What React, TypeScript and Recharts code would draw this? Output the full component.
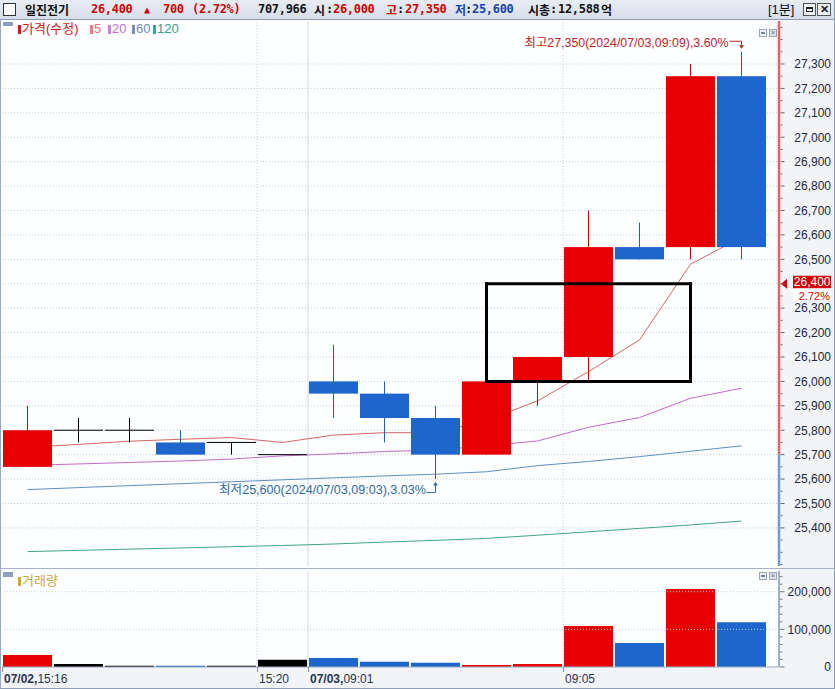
import React from 'react';
import { ComposedChart, Bar, Line, XAxis, YAxis, ReferenceLine, ReferenceDot, ReferenceArea, Cell } from 'recharts';

// ---------- data ----------
const times = [
  '07/02 15:16', '07/02 15:17', '07/02 15:18', '07/02 15:19', '07/02 15:20', '07/02 15:30',
  '07/03 09:01', '07/03 09:02', '07/03 09:03', '07/03 09:04', '07/03 09:05', '07/03 09:06',
  '07/03 09:07', '07/03 09:08', '07/03 09:09',
];
const axisLabelsBold = ['07/02,', '', '', '', '', '', '07/03,', '', '', '', '', '', '', '', ''];
const axisLabelsTime = ['15:16', '', '', '', '', '15:20', '09:01', '', '', '', '', '09:05', '', '', ''];

const opens = [25650, 25800, 25800, 25750, 25750, 25700, 26000, 25950, 25850, 25700, 26000, 26100, 26550, 26550, 27250];
const closes = [25800, 25800, 25800, 25700, 25750, 25700, 25950, 25850, 25700, 26000, 26100, 26550, 26500, 27250, 26550];
const highs = [25900, 25850, 25850, 25800, 25750, 25700, 26150, 26000, 25900, 26000, 26100, 26700, 26650, 27300, 27350];
const lows = [25650, 25750, 25750, 25700, 25700, 25700, 25850, 25750, 25600, 25700, 25900, 26000, 26500, 26500, 26500];
const volumes = [32000, 8000, 3000, 3000, 3000, 19000, 24000, 14000, 11000, 5000, 8000, 109000, 64000, 207000, 119000];

const ma5 = [25730, 25742, 25755, 25763, 25770, 25750, 25780, 25790, 25790, 25840, 25920, 26040, 26170, 26480, 26590];
const ma20 = [25656, 25662, 25668, 25674, 25682, 25695, 25703, 25713, 25719, 25736, 25756, 25812, 25852, 25931, 25972];
const ma60 = [25557, 25565, 25573, 25581, 25589, 25597, 25605, 25613, 25620, 25630, 25655, 25672, 25692, 25714, 25736];
const ma120 = [25303, 25308, 25313, 25318, 25323, 25328, 25334, 25342, 25349, 25357, 25370, 25384, 25398, 25412, 25428];

const priceLabels = [25400, 25500, 25600, 25700, 25800, 25900, 26000, 26100, 26200, 26300, 26400, 26500,
  26600, 26700, 26800, 26900, 27000, 27100, 27200, 27300];
const volumeLabels = [0, 100000, 200000];

const PREV_CLOSE = 25700;
const CURRENT = 26400;
const CHANGE_PCT = '2.72%';
const HIGH_NOTE = '최고27,350(2024/07/03,09:09),3.60%';
const LOW_NOTE = '최저25,600(2024/07/03,09:03),3.03%';
const HIGH_IDX = 14;
const LOW_IDX = 8;
const BOX_FROM = 9;
const BOX_TO = 13;
const BOX_TOP = 26400;
const BOX_BOTTOM = 26000;

// ---------- derived ----------
const Y_MIN = 25244;
const Y_MAX = 27476;
const V_MAX = 255000;
const PAD_RIGHT = 12;
const priceTicks: number[] = [];
for (let v = 25250; v <= 27450; v += 50) priceTicks.push(v);
const volTicks: number[] = [];
for (let v = 0; v <= 240000; v += 20000) volTicks.push(v);

const data = times.map((t, i) => ({
  t, open: opens[i], close: closes[i], high: highs[i], low: lows[i], vol: volumes[i],
  ma5: ma5[i], ma20: ma20[i], ma60: ma60[i], ma120: ma120[i],
}));

const RED = '#e60000';
const BLUE = '#1f66cc';
const FONT = "'Liberation Sans', 'Noto Sans CJK KR', Arial, sans-serif";
const HFONT = "'DejaVu Sans Mono', 'Noto Sans CJK KR', monospace";
const KFONT = "'Noto Sans CJK KR', sans-serif";
const fmt = (v: number) => v.toLocaleString('en-US');
const candleColor = (i: number) => (closes[i] > opens[i] ? RED : closes[i] < opens[i] ? BLUE : '#000');

// ---------- shapes ----------
const Candle = (props: any) => {
  const { x, y, width, height, payload } = props;
  if (!payload) return null;
  const { open, close, high, low } = payload;
  const k = Math.abs(height) / (high - Y_MIN);
  const top = Math.min(y, y + height);
  const py = (v: number) => top + (high - v) * k;
  const up = close > open;
  const down = close < open;
  const fill = up ? RED : down ? BLUE : '#000';
  const wick = up ? '#c80000' : down ? '#1f5fbf' : '#000';
  const cx = x + width / 2;
  const bTop = py(Math.max(open, close));
  const bBot = py(Math.min(open, close));
  return (
    <g>
      {high > low && <line x1={cx} x2={cx} y1={py(high)} y2={py(low)} stroke={wick} strokeWidth={1} />}
      {open === close ? (
        <line x1={x} x2={x + width} y1={bTop} y2={bTop} stroke="#000" strokeWidth={1} />
      ) : (
        <rect x={x} y={bTop} width={width} height={bBot - bTop} fill={fill} />
      )}
    </g>
  );
};

const Empty = () => <g />;

const PriceTick = (props: any) => {
  const { x, y, payload } = props;
  const v = payload.value as number;
  const major = priceLabels.includes(v);
  return (
    <g>
      <line x1={x + 1.5} x2={x + (major ? 5.5 : 3.5)} y1={y} y2={y} stroke="#666" />
      {major && v !== CURRENT && (
        <text x={x + 52} y={y + 4.3} textAnchor="end" fill="#1d2742" fontSize={12} fontFamily={FONT}>
          {fmt(v)}
        </text>
      )}
    </g>
  );
};

const VolTick = (props: any) => {
  const { x, y, payload } = props;
  const v = payload.value as number;
  const major = volumeLabels.includes(v);
  return (
    <g>
      <line x1={x + 1} x2={x + (major ? 5.5 : 3.5)} y1={y} y2={y} stroke="#777" />
      {major && (
        <text x={x + 52} y={y + 4.3} textAnchor="end" fill="#1d2742" fontSize={12} fontFamily={FONT}>
          {fmt(v)}
        </text>
      )}
    </g>
  );
};

const TimeTick = (props: any) => {
  const { x, y, payload } = props;
  const i = times.indexOf(payload.value);
  if (i < 0 || (!axisLabelsTime[i] && !axisLabelsBold[i])) return <g />;
  const off = typeof payload.offset === 'number' ? payload.offset : 25.5;
  const bx = Math.round(x - off);
  return (
    <g>
      <line x1={bx + 0.5} x2={bx + 0.5} y1={y} y2={y + 5} stroke="#7d8aa2" />
      <text x={bx + 2} y={y + 16} fill="#2a3552" fontSize={12} fontFamily={FONT}>
        {axisLabelsBold[i] && <tspan fontWeight="bold">{axisLabelsBold[i]}</tspan>}
        <tspan>{axisLabelsTime[i]}</tspan>
      </text>
    </g>
  );
};

const HighNote = (props: any) => {
  const { cx, cy } = props;
  if (cx == null) return null;
  return (
    <g>
      <text x={cx - 13} y={cy - 4.8} textAnchor="end" fill="#c41c1c" fontSize={12} fontFamily={FONT}
        textLength={204} lengthAdjust="spacingAndGlyphs">{HIGH_NOTE}</text>
      <path d={`M${cx - 12},${cy - 10.5} H${cx} V${cy - 6}`} stroke="#c41c1c" fill="none" />
      <path d={`M${cx - 2.5},${cy - 6.5} L${cx + 2.5},${cy - 6.5} L${cx},${cy - 3} Z`} fill="#c41c1c" />
    </g>
  );
};

const LowNote = (props: any) => {
  const { cx, cy } = props;
  if (cx == null) return null;
  return (
    <g>
      <text x={cx - 9.5} y={cy + 15.3} textAnchor="end" fill="#2f6aa3" fontSize={12} fontFamily={FONT}
        textLength={207} lengthAdjust="spacingAndGlyphs">{LOW_NOTE}</text>
      <path d={`M${cx - 9},${cy + 13.5} H${cx} V${cy + 6}`} stroke="#2f6aa3" fill="none" />
      <path d={`M${cx - 2.5},${cy + 6.5} L${cx + 2.5},${cy + 6.5} L${cx},${cy + 3} Z`} fill="#2f6aa3" />
    </g>
  );
};

const PriceTag = (props: any) => {
  const vb = props.viewBox;
  if (!vb) return null;
  const xr = vb.x + vb.width;
  const y = vb.y;
  return (
    <g>
      <path d={`M${xr + 2},${y} L${xr + 8},${y - 5} L${xr + 8},${y + 5} Z`} fill="#d40000" />
      <rect x={xr + 14} y={y - 8} width={38} height={12.5} fill="#d40000" />
      <text x={xr + 51.5} y={y + 2.3} textAnchor="end" fill="#fff" fontSize={12} fontFamily={FONT}>{fmt(CURRENT)}</text>
      <rect x={xr + 14} y={y + 5} width={38} height={12} fill="#fff" />
      <text x={xr + 51} y={y + 15.8} textAnchor="end" fill="#d40000" fontSize={11} fontFamily={FONT}>{CHANGE_PCT}</text>
    </g>
  );
};

// Colored price-axis edge line (above/below previous close)
const EdgeLine = (color: string) => (p: any) => {
  if (p == null || p.x == null) return <g />;
  const xr = p.x + p.width + PAD_RIGHT;
  return <line x1={xr} x2={xr} y1={p.y} y2={p.y + p.height} stroke={color} strokeWidth={2.5} />;
};

// ---------- chart layers ----------
const MAIN_W = 835;
const MAIN_H = 568;

const vLines = [
  <ReferenceLine key="v5" x={times[5]} position="start" stroke="#c3ccd9" strokeDasharray="1 2" />,
  <ReferenceLine key="v6" x={times[6]} position="start" stroke="#d3dae5" />,
  <ReferenceLine key="v11" x={times[11]} position="start" stroke="#c3ccd9" strokeDasharray="1 2" />,
];

const MainBack = () => (
  <ComposedChart width={MAIN_W} height={MAIN_H} data={data} margin={{ top: 21, right: 56, bottom: 2, left: 2 }} barCategoryGap={1}>
    <XAxis dataKey="t" hide padding={{ left: 0, right: PAD_RIGHT }} scale="band" />
    <YAxis hide domain={[Y_MIN, Y_MAX]} type="number" />
    {priceLabels.map((v) => (
      <ReferenceLine key={v} y={v} stroke="#c5cdda" strokeDasharray="1 2" />
    ))}
    {vLines}
    <Bar dataKey="high" shape={<Empty />} isAnimationActive={false} />
    <Line dataKey="ma120" stroke="#43a38c" strokeWidth={1} dot={false} isAnimationActive={false} />
    <Line dataKey="ma60" stroke="#5f8fc3" strokeWidth={1} dot={false} isAnimationActive={false} />
    <Line dataKey="ma20" stroke="#c06bcc" strokeWidth={1} dot={false} isAnimationActive={false} />
    <Line dataKey="ma5" stroke="#d46868" strokeWidth={1} dot={false} isAnimationActive={false} />
  </ComposedChart>
);

const MainFront = () => (
  <ComposedChart width={MAIN_W} height={MAIN_H} data={data} margin={{ top: 21, right: 0, bottom: 2, left: 2 }} barCategoryGap={1}>
    <XAxis dataKey="t" hide padding={{ left: 0, right: PAD_RIGHT }} />
    <YAxis orientation="right" width={56} domain={[Y_MIN, Y_MAX]} type="number" ticks={priceTicks}
      tick={<PriceTick />} tickLine={false} axisLine={false} tickSize={0} tickMargin={0} interval={0} />
    <Bar dataKey="high" shape={<Candle />} isAnimationActive={false} />
    <ReferenceLine segment={[{ x: times[BOX_FROM], y: BOX_TOP }, { x: times[BOX_TO], y: BOX_TOP }]} stroke="#000" strokeWidth={3} strokeLinecap="square" />
    <ReferenceLine segment={[{ x: times[BOX_FROM], y: BOX_BOTTOM }, { x: times[BOX_TO], y: BOX_BOTTOM }]} stroke="#000" strokeWidth={3} strokeLinecap="square" />
    <ReferenceLine segment={[{ x: times[BOX_FROM], y: BOX_BOTTOM }, { x: times[BOX_FROM], y: BOX_TOP }]} stroke="#000" strokeWidth={3} strokeLinecap="square" />
    <ReferenceLine segment={[{ x: times[BOX_TO], y: BOX_BOTTOM }, { x: times[BOX_TO], y: BOX_TOP }]} stroke="#000" strokeWidth={3} strokeLinecap="square" />
    <ReferenceDot x={times[HIGH_IDX]} y={highs[HIGH_IDX]} r={0} shape={(p: any) => <HighNote {...p} />} />
    <ReferenceDot x={times[LOW_IDX]} y={lows[LOW_IDX]} r={0} shape={(p: any) => <LowNote {...p} />} />
    <ReferenceArea y1={PREV_CLOSE} y2={Y_MAX} shape={EdgeLine('#e26464')} />
    <ReferenceArea y1={Y_MIN} y2={PREV_CLOSE} shape={EdgeLine('#6e9bdc')} />
    <ReferenceLine y={CURRENT} stroke="none" label={<PriceTag />} />
  </ComposedChart>
);

const VolumeChart = () => (
  <ComposedChart width={835} height={123} data={data} margin={{ top: 5, right: 0, bottom: 0, left: 2 }} barCategoryGap={1}>
    <XAxis dataKey="t" padding={{ left: 0, right: PAD_RIGHT }} height={22} interval={0} tick={<TimeTick />}
      tickLine={false} axisLine={{ stroke: '#9aa8bf' }} tickSize={0} tickMargin={0} />
    <YAxis orientation="right" width={56} domain={[0, V_MAX]} type="number" ticks={volTicks} tick={<VolTick />}
      tickLine={false} axisLine={{ stroke: '#9db0cc', strokeWidth: 2 }} tickSize={0} tickMargin={0} interval={0} />
    {[100000, 200000].map((v) => (
      <ReferenceLine key={v} y={v} stroke="#c5cdda" strokeDasharray="1 2" />
    ))}
    {vLines}
    <Bar dataKey="vol" isAnimationActive={false}>
      {data.map((d, i) => (
        <Cell key={d.t} fill={candleColor(i)} />
      ))}
    </Bar>
  </ComposedChart>
);

// ---------- page ----------
const abs = (l: number, t: number, extra: any = {}) => ({ position: 'absolute' as const, left: l, top: t, ...extra });

const HeaderText = ({ l, children, color = '#111', size = 12, bold = true, font = HFONT }: any) => (
  <div style={abs(l, 0, { height: 19, lineHeight: '19px', fontSize: size, fontWeight: bold ? 'bold' : 'normal', color, fontFamily: font, whiteSpace: 'nowrap', letterSpacing: font === HFONT ? -0.3 : 0 })}>
    {children}
  </div>
);

const Legend = ({ l, t, color, text, textColor }: any) => (
  <>
    <div style={abs(l, t + 2, { width: 3, height: 9, background: color })} />
    <div style={abs(l + 4, t - 2, { fontSize: 13, lineHeight: '16px', color: textColor, fontFamily: FONT, whiteSpace: 'nowrap' })}>{text}</div>
  </>
);

const MiniIcons = ({ t }: any) => (
  <>
    <div style={abs(759, t, { width: 6, height: 6, border: '1px solid #9aa4b6', background: '#eef1f6' })}>
      <div style={abs(1, 2, { width: 4, height: 2, background: '#7b8597' })} />
    </div>
    <div style={abs(769, t, { width: 6, height: 6, border: '1px solid #9aa4b6', background: '#dde2ea', fontSize: 7, lineHeight: '6px', textAlign: 'center', color: '#5a6478', fontFamily: FONT })}>×</div>
  </>
);

const HR = '#d40000';
const HB = '#1a3fb0';

export default function App() {
  return (
    <div style={abs(0, 0, { width: 835, height: 689, background: '#f2f4f8', overflow: 'hidden', fontFamily: FONT })}>
      {/* header */}
      <div style={abs(0, 0, { width: 835, height: 19, background: 'linear-gradient(#e8edf4, #d6deea)', borderBottom: '1px solid #8e9db7' })} />
      <div style={abs(3, 3, { width: 11, height: 11, background: '#fff', border: '1px solid #333' })} />
      <HeaderText l={25} font={KFONT}>일진전기</HeaderText>
      <HeaderText l={91} color={HR}>26,400</HeaderText>
      <HeaderText l={144} color={HR} size={10}>▲</HeaderText>
      <HeaderText l={163} color={HR}>700</HeaderText>
      <HeaderText l={192} color={HR}>(2.72%)</HeaderText>
      <HeaderText l={258}>707,966</HeaderText>
      <HeaderText l={314} font={KFONT}>시</HeaderText>
      <HeaderText l={326}>:</HeaderText>
      <HeaderText l={333} color={HR}>26,000</HeaderText>
      <HeaderText l={386} color={HR} font={KFONT}>고</HeaderText>
      <HeaderText l={397}>:</HeaderText>
      <HeaderText l={405} color={HR}>27,350</HeaderText>
      <HeaderText l={455} color={HB} font={KFONT}>저</HeaderText>
      <HeaderText l={465}>:</HeaderText>
      <HeaderText l={472} color={HB}>25,600</HeaderText>
      <HeaderText l={528} font={KFONT}>시총</HeaderText>
      <HeaderText l={550}>:</HeaderText>
      <HeaderText l={558}>12,588</HeaderText>
      <HeaderText l={601} font={KFONT}>억</HeaderText>
      <HeaderText l={768} bold={false} size={13} font={FONT}>[1분]</HeaderText>
      <div style={abs(803, 3, { width: 11, height: 11, border: '1px solid #555', background: '#eef1f5' })}>
        <div style={abs(2, 3, { width: 7, height: 5, border: '1px solid #222', borderTopWidth: 2, boxSizing: 'border-box' })} />
      </div>
      <div style={abs(817, 3, { width: 12, height: 11, border: '1px solid #555', background: '#eef1f5', fontSize: 11, lineHeight: '11px', textAlign: 'center', fontWeight: 'bold', color: '#222' })}>✕</div>

      {/* panels */}
      <div style={abs(1, 20, { width: 778, height: 548, background: '#fdfeff' })} />
      <div style={abs(0, 568, { width: 835, height: 1, background: '#a5b2c7' })} />
      <div style={abs(1, 569, { width: 778, height: 98, background: '#fdfeff' })} />
      <div style={abs(0, 20, { width: 1, height: 669, background: '#9aa9c2' })} />
      <div style={abs(834, 0, { width: 1, height: 689, background: '#8e9db7' })} />
      <div style={abs(0, 688, { width: 835, height: 1, background: '#8e9db7' })} />

      <div style={abs(0, 0)}><MainBack /></div>
      <div style={abs(0, 0)}><MainFront /></div>
      <div style={abs(0, 566)}><VolumeChart /></div>

      {/* legends */}
      <div style={abs(3, 22, { width: 10, height: 4, background: '#8fa0bd' })} />
      <Legend l={18} t={23} color="#d41a1a" textColor="#d41a1a" text="가격(수정)" />
      <Legend l={90} t={23} color="#e08080" textColor="#e07070" text="5" />
      <Legend l={108} t={23} color="#d080d8" textColor="#c070d0" text="20" />
      <Legend l={132} t={23} color="#7090c0" textColor="#6a8cc0" text="60" />
      <Legend l={153} t={23} color="#40a090" textColor="#3a9c8a" text="120" />
      <MiniIcons t={29} />

      <div style={abs(3, 572, { width: 10, height: 5, background: '#8fa0bd' })} />
      <Legend l={18} t={575} color="#c8a840" textColor="#c8a840" text="거래량" />
      <MiniIcons t={572} />
    </div>
  );
}
